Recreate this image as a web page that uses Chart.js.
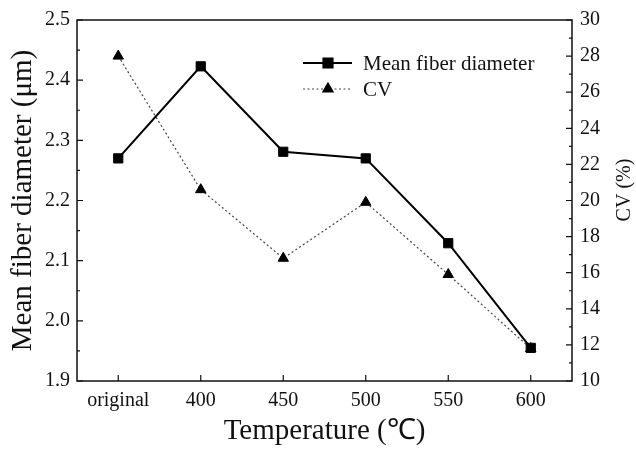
<!DOCTYPE html>
<html>
<head>
<meta charset="utf-8">
<script src="https://cdn.jsdelivr.net/npm/chart.js@4/dist/chart.umd.min.js"></script>
<style>
    body { margin: 0; background: #fff; }
    #wrap { width: 636px; height: 451px; }
</style>
</head>
<body>
<div id="wrap"><canvas id="chartCanvas" width="636" height="451"></canvas></div>
<script>
// Datos
const categories = ['original', '400', '450', '500', '550', '600'];
const meanDiameter = [2.27, 2.423, 2.281, 2.27, 2.129, 1.955];
const cvValues = [28.0, 20.6, 16.8, 19.9, 15.9, 11.8];

const leftTicks = { min: 1.9, max: 2.5, step: 0.05 };
const rightTicks = { min: 10, max: 30, step: 1 };

const serif = "'Liberation Serif', 'Times New Roman', serif";

function isMajorLeft(v) {
    return Math.round(v * 100) % 10 === 0;
}

function isMajorRight(v) {
    return Math.round(v) % 2 === 0;
}

// Marco, marcas hacia dentro, título derecho y leyenda
const framePlugin = {
    id: 'frame',
    afterDraw(chart) {
        const ctx = chart.ctx;
        const a = chart.chartArea;
        const x = chart.scales.x;
        const y = chart.scales.y;
        const y1 = chart.scales.y1;

        ctx.save();
        ctx.strokeStyle = '#111';
        ctx.lineWidth = 1.5;
        ctx.strokeRect(a.left, a.top, a.right - a.left, a.bottom - a.top);

        ctx.lineWidth = 1.2;
        ctx.beginPath();
        x.ticks.forEach((t, i) => {
            const px = x.getPixelForTick(i);
            ctx.moveTo(px, a.bottom);
            ctx.lineTo(px, a.bottom - 6);
        });
        y.ticks.forEach((t, i) => {
            const py = y.getPixelForTick(i);
            const len = isMajorLeft(t.value) ? 6 : 3;
            ctx.moveTo(a.left, py);
            ctx.lineTo(a.left + len, py);
        });
        y1.ticks.forEach((t, i) => {
            const py = y1.getPixelForTick(i);
            const len = isMajorRight(t.value) ? 6 : 3;
            ctx.moveTo(a.right, py);
            ctx.lineTo(a.right - len, py);
        });
        ctx.stroke();

        // título del eje derecho (se lee de abajo hacia arriba)
        ctx.save();
        ctx.translate(625, 190);
        ctx.rotate(-Math.PI / 2);
        ctx.fillStyle = '#111';
        ctx.font = '20px ' + serif;
        ctx.textAlign = 'center';
        ctx.textBaseline = 'middle';
        ctx.fillText('CV (%)', 0, 0);
        ctx.restore();

        // leyenda dentro del área
        const rows = [chart.data.datasets[0], chart.data.datasets[1]];
        rows.forEach((ds, i) => {
            const ly = 63 + i * 26;
            ctx.save();
            ctx.strokeStyle = ds.borderColor;
            ctx.lineWidth = ds.borderWidth;
            ctx.setLineDash(ds.borderDash || []);
            ctx.beginPath();
            ctx.moveTo(303, ly);
            ctx.lineTo(352, ly);
            ctx.stroke();
            ctx.setLineDash([]);
            ctx.fillStyle = '#000';
            ctx.strokeStyle = '#000';
            Chart.helpers.drawPoint(ctx, {
                pointStyle: ds.pointStyle,
                radius: ds.pointRadius,
                rotation: 0,
                borderWidth: 1
            }, 328, ly);
            ctx.fillStyle = '#111';
            ctx.font = '21px ' + serif;
            ctx.textAlign = 'left';
            ctx.textBaseline = 'middle';
            ctx.fillText(ds.label, 363, ly + 1);
            ctx.restore();
        });
        ctx.restore();
    }
};

const ctx = document.getElementById('chartCanvas').getContext('2d');
const chart = new Chart(ctx, {
    type: 'line',
    data: {
        labels: categories,
        datasets: [{
            label: 'Mean fiber diameter',
            data: meanDiameter,
            yAxisID: 'y',
            borderColor: '#000',
            borderWidth: 2,
            pointStyle: 'rect',
            pointRadius: 6.5,
            pointBackgroundColor: '#000',
            pointBorderColor: '#000',
            pointBorderWidth: 1,
            order: 1
        }, {
            label: 'CV',
            data: cvValues,
            yAxisID: 'y1',
            borderColor: '#444',
            borderWidth: 1.2,
            borderDash: [2, 2.5],
            pointStyle: 'triangle',
            pointRadius: 6,
            pointBackgroundColor: '#000',
            pointBorderColor: '#000',
            pointBorderWidth: 1,
            order: 2
        }]
    },
    options: {
        responsive: false,
        animation: false,
        layout: { padding: { top: 18, left: 0, right: 0, bottom: 0 } },
        plugins: {
            legend: { display: false },
            tooltip: { enabled: false }
        },
        scales: {
            x: {
                type: 'category',
                offset: true,
                grid: { display: false, drawTicks: false },
                border: { display: false },
                ticks: {
                    color: '#111',
                    padding: 8,
                    font: { family: serif, size: 20 }
                },
                title: {
                    display: true,
                    text: 'Temperature (℃)',
                    color: '#111',
                    padding: { top: 4, bottom: 2 },
                    font: { family: serif, size: 29 }
                },
                afterFit: s => { s.height = 70; }
            },
            y: {
                position: 'left',
                min: leftTicks.min,
                max: leftTicks.max,
                grid: { display: false, drawTicks: false },
                border: { display: false },
                ticks: {
                    stepSize: leftTicks.step,
                    autoSkip: false,
                    color: '#111',
                    padding: 7,
                    font: { family: serif, size: 20 },
                    callback: v => isMajorLeft(v) ? v.toFixed(1) : ''
                },
                title: {
                    display: true,
                    text: 'Mean fiber diameter (μm)',
                    color: '#111',
                    padding: { top: 6, bottom: 0 },
                    font: { family: serif, size: 29 }
                },
                afterFit: s => { s.width = 77; }
            },
            y1: {
                position: 'right',
                min: rightTicks.min,
                max: rightTicks.max,
                grid: { display: false, drawTicks: false },
                border: { display: false },
                ticks: {
                    stepSize: rightTicks.step,
                    autoSkip: false,
                    color: '#111',
                    padding: 8,
                    font: { family: serif, size: 20 },
                    callback: v => isMajorRight(v) ? String(Math.round(v)) : ''
                },
                afterFit: s => { s.width = 64; }
            }
        }
    },
    plugins: [framePlugin]
});
</script>
</body>
</html>
